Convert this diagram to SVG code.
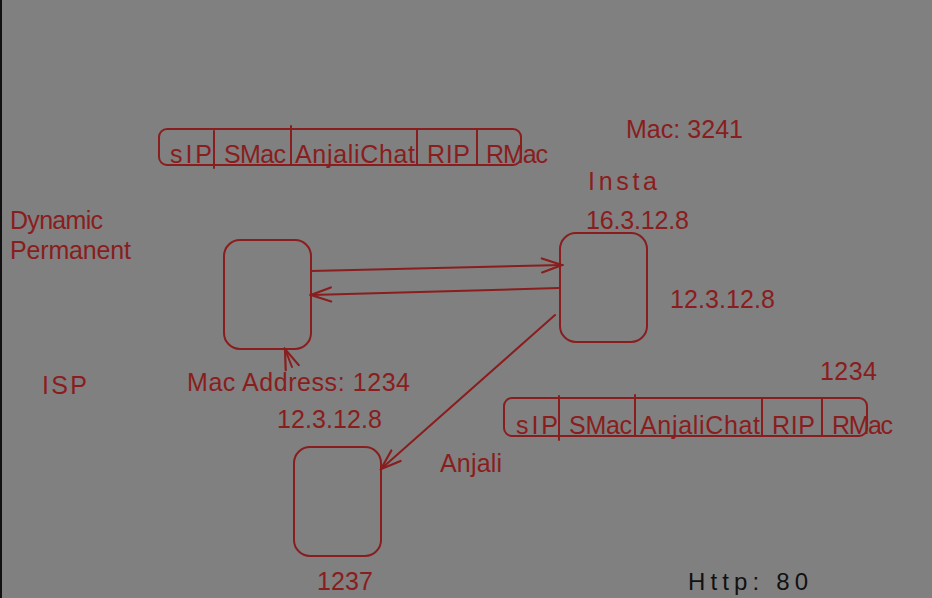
<svg xmlns="http://www.w3.org/2000/svg" width="932" height="598" viewBox="0 0 932 598">
<style>
.t{font-family:"Liberation Sans",Arial,sans-serif;fill:#8a1d1d;font-size:25px}
.b{fill:none;stroke:#8a1d1d;stroke-width:2;stroke-linecap:round;stroke-linejoin:round}
.k{font-family:"Liberation Sans",Arial,sans-serif;fill:#111;font-size:24px}
</style>
<defs>
<marker id="ah" viewBox="0 0 24 20" refX="22" refY="10" markerWidth="24" markerHeight="20" markerUnits="userSpaceOnUse" orient="auto">
<path d="M2 3 L22 10 L2 17" fill="none" stroke="#8a1d1d" stroke-width="2.2" stroke-linecap="round"/>
</marker>
</defs>
<rect x="0" y="0" width="932" height="598" fill="#808080"/>
<rect x="0" y="0" width="2" height="598" fill="#111"/>

<g id="packet-top">
<rect class="b" x="159" y="129" width="362" height="36" rx="8"/>
<line class="b" x1="214" y1="131" x2="214" y2="168"/>
<line class="b" x1="291" y1="126" x2="291" y2="165"/>
<line class="b" x1="417" y1="130" x2="417" y2="165"/>
<line class="b" x1="477" y1="130" x2="477" y2="165"/>
<text class="t" x="170" y="163" textLength="42">sIP</text>
<text class="t" x="224" y="163" textLength="62">SMac</text>
<text class="t" x="295" y="163" textLength="120">AnjaliChat</text>
<text class="t" x="427" y="163" textLength="43">RIP</text>
<text class="t" x="486" y="163" textLength="62">RMac</text>
</g>

<g id="packet-bottom">
<rect class="b" x="504" y="398" width="363" height="38" rx="8"/>
<line class="b" x1="559" y1="396" x2="559" y2="440"/>
<line class="b" x1="635" y1="395" x2="635" y2="436"/>
<line class="b" x1="762" y1="399" x2="762" y2="436"/>
<line class="b" x1="822" y1="399" x2="822" y2="436"/>
<text class="t" x="516" y="434" textLength="42">sIP</text>
<text class="t" x="569" y="434" textLength="63">SMac</text>
<text class="t" x="640" y="434" textLength="120">AnjaliChat</text>
<text class="t" x="772" y="434" textLength="43">RIP</text>
<text class="t" x="832" y="434" textLength="61">RMac</text>
</g>

<g id="node-left">
<rect class="b" x="224" y="240" width="87" height="109" rx="16"/>
</g>
<g id="node-insta">
<rect class="b" x="560" y="233" width="87" height="109" rx="16"/>
</g>
<g id="node-bottom">
<rect class="b" x="294" y="447" width="87" height="109" rx="16"/>
</g>

<g id="connectors">
<line class="b" x1="311" y1="271" x2="562" y2="265" marker-end="url(#ah)"/>
<line class="b" x1="559" y1="288" x2="311" y2="295" marker-end="url(#ah)"/>
<line class="b" x1="555" y1="315" x2="381" y2="469" marker-end="url(#ah)"/>
<line class="b" x1="292" y1="367" x2="285" y2="349" marker-end="url(#ah)"/>
</g>

<g id="labels">
<text class="t" x="626" y="138" textLength="117">Mac: 3241</text>
<text class="t" x="588" y="190" textLength="69">Insta</text>
<text class="t" x="586" y="229" textLength="103">16.3.12.8</text>
<text class="t" x="670" y="308" textLength="105">12.3.12.8</text>
<text class="t" x="10" y="229" textLength="93">Dynamic</text>
<text class="t" x="10" y="259" textLength="121">Permanent</text>
<text class="t" x="42" y="394" textLength="45">ISP</text>
<text class="t" x="187" y="391" textLength="223">Mac Address: 1234</text>
<text class="t" x="277" y="428" textLength="105">12.3.12.8</text>
<text class="t" x="820" y="380" textLength="57">1234</text>
<text class="t" x="440" y="472" textLength="62">Anjali</text>
<text class="t" x="317" y="590" textLength="56">1237</text>
<text class="k" x="688" y="590" textLength="120">Http:  80</text>
</g>
</svg>
